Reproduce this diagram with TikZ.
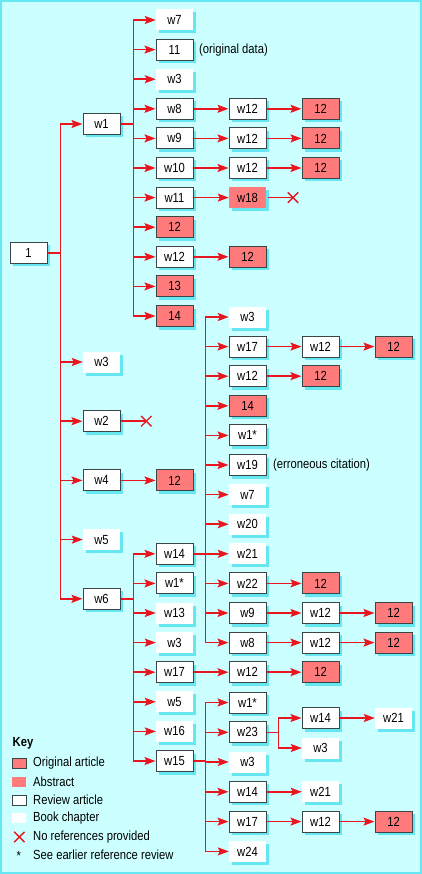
\documentclass[tikz,border=0pt]{standalone}
\usepackage{fontspec}
\setmainfont{Liberation Sans}[FakeStretch=0.85]
\usetikzlibrary{arrows.meta,shadows,shapes.misc}
\definecolor{bg}{HTML}{CCFFFF}
\definecolor{frame}{HTML}{66E8F2}
\definecolor{shc}{HTML}{66E6F0}
\definecolor{salmon}{HTML}{FF7B7B}
\definecolor{bord}{HTML}{3A4646}
\definecolor{redl}{HTML}{E8161E}
\newcommand\diagfont{\fontsize{13.2}{15}\selectfont}
\begin{document}
\begin{tikzpicture}[x=1pt,y=-1pt,
  box/.style={minimum width=37pt,minimum height=21pt,inner sep=0pt,font=\diagfont,
    drop shadow={shadow xshift=3pt,shadow yshift=-3pt,fill=shc,opacity=1}},
  rev/.style={box,fill=white,draw=bord,line width=1pt},
  book/.style={box,fill=white},
  orig/.style={box,fill=salmon,draw=bord,line width=1pt},
  abst/.style={box,fill=salmon},
  link/.style={draw=redl,line width=1.5pt},
  arr/.style={link,-{Stealth[length=11pt,width=8pt,inset=2pt]}},
  xmark/.style={cross out,draw=redl,line width=1.4pt,minimum size=9pt,inner sep=0pt},
  lbl/.style={font=\diagfont,anchor=west,inner sep=0pt},
  kswatch/.style={minimum width=14pt,minimum height=10pt,inner sep=0pt,line width=1pt}
]
\useasboundingbox (0,0) rectangle (422,874);
\draw[draw=frame,fill=bg,line width=2pt] (1,1) rectangle (421,873);

% root and level 1
\node[rev] (n1) at (28.5,253) {1};
\node[rev]  (a1) at (101.5,124) {w1};
\node[book] (a2) at (101.5,362) {w3};
\node[rev]  (a3) at (101.5,421.2) {w2};
\node[rev]  (a4) at (101.5,480.4) {w4};
\node[book] (a5) at (101.5,539.6) {w5};
\node[rev]  (a6) at (101.5,598.8) {w6};

% w1 children
\node[book] (b1) at (174.5,20) {w7};
\node[rev]  (b2) at (174.5,49.6) {11};
\node[book] (b3) at (174.5,79.2) {w3};
\node[rev]  (b4) at (174.5,108.8) {w8};
\node[rev]  (b5) at (174.5,138.4) {w9};
\node[rev]  (b6) at (174.5,168) {w10};
\node[rev]  (b7) at (174.5,197.6) {w11};
\node[orig] (b8) at (174.5,227.2) {12};
\node[rev]  (b9) at (174.5,256.8) {w12};
\node[orig] (b10) at (174.5,286.4) {13};
\node[orig] (b11) at (174.5,316) {14};
\node[lbl]  (t1) at (199,49.6) {(original data)};

\node[rev]  (b4a) at (247.5,108.8) {w12};
\node[rev]  (b5a) at (247.5,138.4) {w12};
\node[rev]  (b6a) at (247.5,168) {w12};
\node[abst] (b7a) at (247.5,197.6) {w18};
\node[orig] (b9a) at (247.5,256.8) {12};
\node[orig] (b4b) at (320.5,108.8) {12};
\node[orig] (b5b) at (320.5,138.4) {12};
\node[orig] (b6b) at (320.5,168) {12};
\node[xmark] (xb7) at (293,197.6) {};

\node[xmark] (xa3) at (146.3,421.2) {};
\node[orig] (a4a) at (174.5,480.4) {12};

% w6 children
\node[rev]  (d1) at (174.5,553.8) {w14};
\node[rev]  (d2) at (174.5,583.4) {w1*};
\node[book] (d3) at (174.5,613) {w13};
\node[book] (d4) at (174.5,642.6) {w3};
\node[rev]  (d5) at (174.5,672.2) {w17};
\node[book] (d6) at (174.5,701.8) {w5};
\node[book] (d7) at (174.5,731.4) {w16};
\node[rev]  (d8) at (174.5,761) {w15};
\node[rev]  (d5a) at (247.5,672.2) {w12};
\node[orig] (d5b) at (320.5,672.2) {12};

% w14 children
\node[book] (e1) at (247.5,317) {w3};
\node[rev]  (e2) at (247.5,346.6) {w17};
\node[rev]  (e3) at (247.5,376.2) {w12};
\node[orig] (e4) at (247.5,405.8) {14};
\node[rev]  (e5) at (247.5,435.4) {w1*};
\node[rev]  (e6) at (247.5,465) {w19};
\node[book] (e7) at (247.5,494.6) {w7};
\node[book] (e8) at (247.5,524.2) {w20};
\node[book] (e9) at (247.5,553.8) {w21};
\node[rev]  (e10) at (247.5,583.4) {w22};
\node[rev]  (e11) at (247.5,613) {w9};
\node[rev]  (e12) at (247.5,642.6) {w8};
\node[lbl]  (t2) at (273,465) {(erroneous citation)};
\node[rev]  (e2a) at (320.5,346.6) {w12};
\node[orig] (e2b) at (393.5,346.6) {12};
\node[orig] (e3a) at (320.5,376.2) {12};
\node[orig] (e10a) at (320.5,583.4) {12};
\node[rev]  (e11a) at (320.5,613) {w12};
\node[orig] (e11b) at (393.5,613) {12};
\node[rev]  (e12a) at (320.5,642.6) {w12};
\node[orig] (e12b) at (393.5,642.6) {12};

% w15 children
\node[rev]  (f1) at (247.5,702.5) {w1*};
\node[rev]  (f2) at (247.5,732.3) {w23};
\node[book] (f3) at (247.5,762) {w3};
\node[rev]  (f4) at (247.5,791.8) {w14};
\node[rev]  (f5) at (247.5,821.6) {w17};
\node[book] (f6) at (247.5,851.4) {w24};
\node[rev]  (g1) at (320.5,718) {w14};
\node[book] (g2) at (320.5,748) {w3};
\node[book] (g1a) at (393.5,718) {w21};
\node[book] (f4a) at (320.5,791.8) {w21};
\node[rev]  (f5a) at (320.5,821.6) {w12};
\node[orig] (f5b) at (393.5,821.6) {12};

% connectors
\foreach \c in {a1,a2,a3,a4,a5,a6} \draw[arr] (n1.east) -- ++(13,0) |- (\c.west);
\foreach \c in {b1,b2,b3,b4,b5,b6,b7,b8,b9,b10,b11} \draw[arr] (a1.east) -- ++(13,0) |- (\c.west);
\foreach \c in {d1,d2,d3,d4,d5,d6,d7,d8} \draw[arr] (a6.east) -- ++(13,0) |- (\c.west);
\foreach \c in {e1,e2,e3,e4,e5,e6,e7,e8,e9,e10,e11,e12} \draw[arr] (d1.east) -- ++(12,0) |- (\c.west);
\foreach \c in {f1,f2,f3,f4,f5,f6} \draw[arr] (d8.east) -- ++(12,0) |- (\c.west);
\foreach \c in {g1,g2} \draw[arr] (f2.east) -- ++(12,0) |- (\c.west);

\draw[arr] (b4) -- (b4a); \draw[arr] (b4a) -- (b4b);
\draw[arr] (b5) -- (b5a); \draw[arr] (b5a) -- (b5b);
\draw[arr] (b6) -- (b6a); \draw[arr] (b6a) -- (b6b);
\draw[arr] (b7) -- (b7a);
\draw[link] ([xshift=2pt]b7a.east) -- (xb7.center);
\draw[arr] (b9) -- (b9a);
\draw[link] (a3.east) -- (xa3.center);
\draw[arr] (a4) -- (a4a);
\draw[arr] (d5) -- (d5a); \draw[arr] (d5a) -- (d5b);
\draw[arr] (e2) -- (e2a); \draw[arr] (e2a) -- (e2b);
\draw[arr] (e3) -- (e3a);
\draw[arr] (e10) -- (e10a);
\draw[arr] (e11) -- (e11a); \draw[arr] (e11a) -- (e11b);
\draw[arr] (e12) -- (e12a); \draw[arr] (e12a) -- (e12b);
\draw[arr] (g1) -- (g1a);
\draw[arr] (f4) -- (f4a);
\draw[arr] (f5) -- (f5a); \draw[arr] (f5a) -- (f5b);

% key
\node[font=\diagfont\bfseries,anchor=west,inner sep=0pt] (key) at (12.5,743) {Key};
\node[kswatch,fill=salmon,draw=bord] (k1) at (19.3,763) {};
\node[kswatch,fill=salmon] (k2) at (19.3,782) {};
\node[kswatch,fill=white,draw=bord] (k3) at (19.3,800) {};
\node[kswatch,fill=white] (k4) at (19.3,818) {};
\node[xmark] (k5) at (19.3,837) {};
\node[font=\diagfont,inner sep=0pt] (k6) at (18.8,856) {*};
\node[lbl] (l1) at (33,763) {Original article};
\node[lbl] (l2) at (33,782) {Abstract};
\node[lbl] (l3) at (33,800) {Review article};
\node[lbl] (l4) at (33,818) {Book chapter};
\node[lbl] (l5) at (33,837) {No references provided};
\node[lbl] (l6) at (33,855) {See earlier reference review};
\end{tikzpicture}
\end{document}
